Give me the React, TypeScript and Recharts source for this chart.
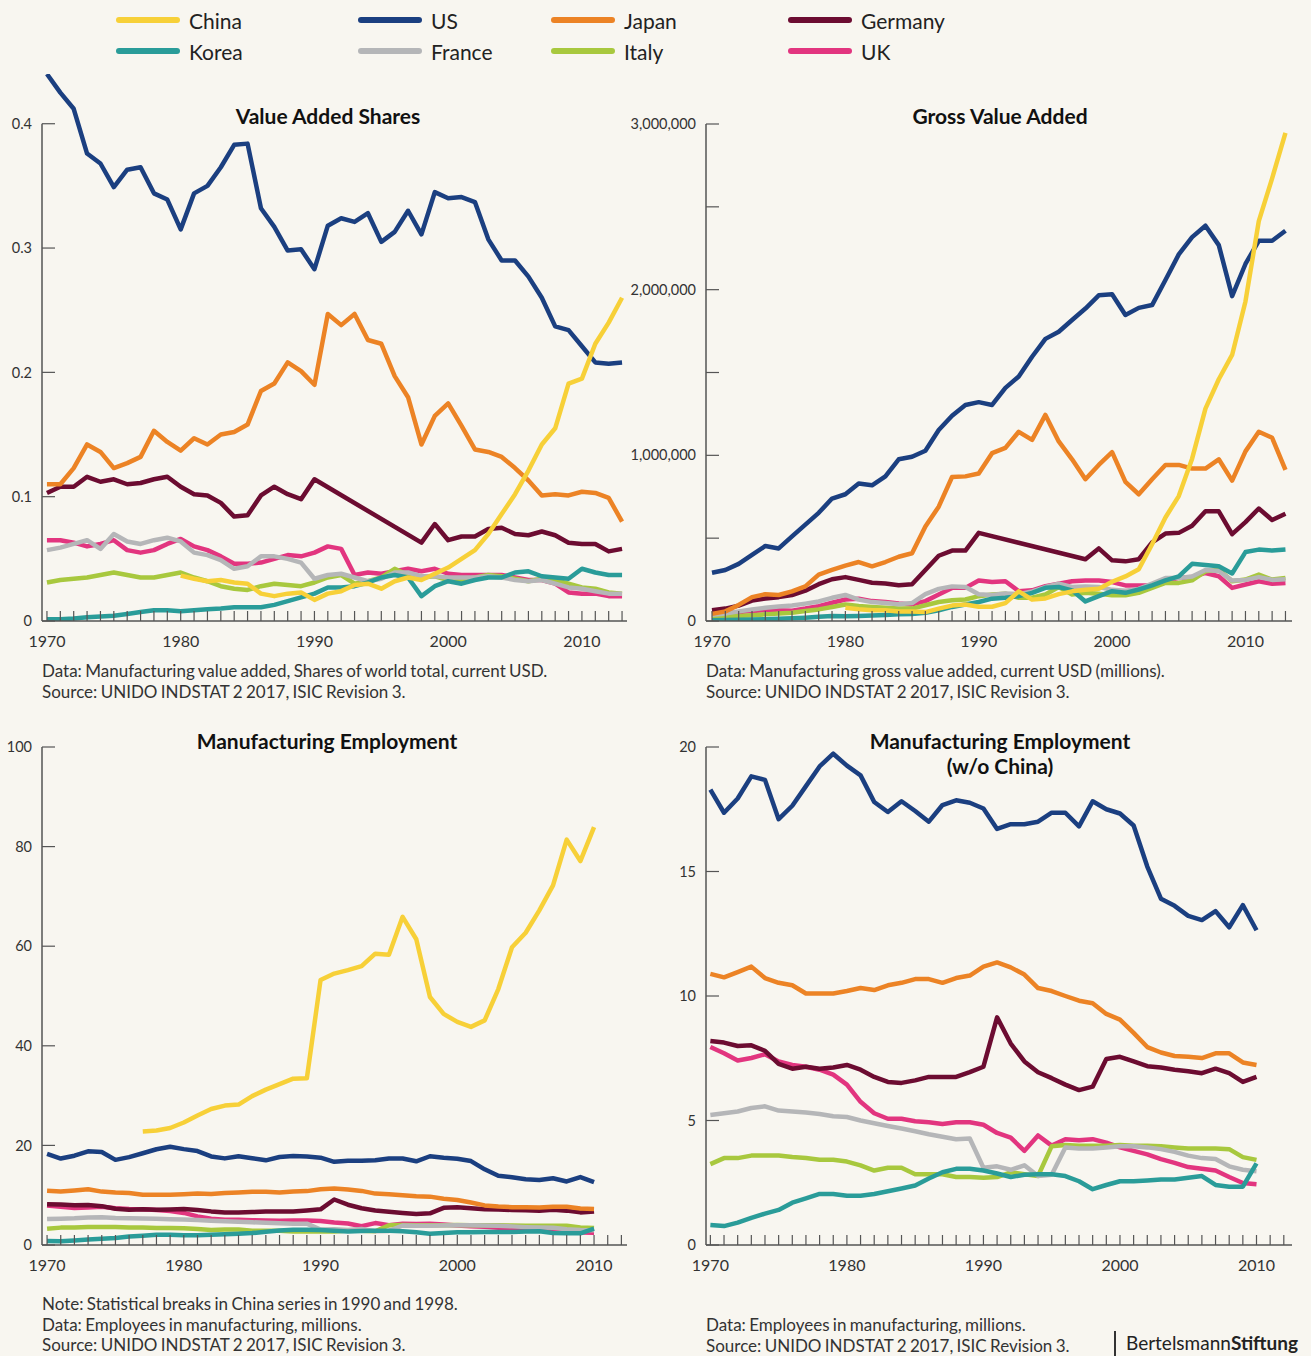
import React from 'react';
import { LineChart, Line, XAxis, YAxis, ReferenceLine } from 'recharts';

// Manufacturing in eight economies, UNIDO INDSTAT 2 2017 (ISIC Rev. 3)

const FONT = 'Lato, "Open Sans", sans-serif';
const BG = '#f8f6f0';
const AXIS = '#555';

const COLORS: Record<string, string> = {
  China: '#f7d038',
  US: '#1b3f80',
  Japan: '#ec8325',
  Germany: '#6c0c31',
  Korea: '#2a9c99',
  France: '#b5b6b8',
  Italy: '#a8c83e',
  UK: '#e2357f',
};

const LEGEND_ROWS = [
  ['China', 'US', 'Japan', 'Germany'],
  ['Korea', 'France', 'Italy', 'UK'],
];
const LEGEND_X = [116, 358, 551, 788];

// drawing order, last one on top
const DRAW_ORDER = ['UK', 'Italy', 'France', 'Korea', 'Germany', 'Japan', 'US', 'China'];

const yearsFrom = (a: number, b: number) => Array.from({ length: b - a + 1 }, (_, i) => a + i);
const YEARS_VA = yearsFrom(1970, 2013);
const YEARS_EMP = yearsFrom(1970, 2010);
const _ = null;

// --- value added, share of world total ---
const CHINA_SHARE = [_, _, _, _, _, _, _, _, _, _,
  0.0365, 0.034, 0.032, 0.033, 0.031, 0.030, 0.022, 0.020, 0.022, 0.023,
  0.017, 0.022, 0.024, 0.029, 0.030, 0.026, 0.032, 0.035, 0.033, 0.038,
  0.043, 0.050, 0.057, 0.070, 0.086, 0.102, 0.121, 0.142, 0.155, 0.191,
  0.195, 0.223, 0.240, 0.260];
const US_SHARE = [0.44, 0.425, 0.412, 0.376, 0.368, 0.349, 0.363, 0.365, 0.344, 0.339,
  0.315, 0.344, 0.350, 0.365, 0.383, 0.384, 0.332, 0.317, 0.298, 0.299,
  0.283, 0.318, 0.324, 0.321, 0.328, 0.305, 0.313, 0.330, 0.311, 0.345,
  0.340, 0.341, 0.337, 0.307, 0.290, 0.290, 0.277, 0.260, 0.237, 0.234,
  0.221, 0.208, 0.207, 0.208];
const JAPAN_SHARE = [0.110, 0.110, 0.123, 0.142, 0.136, 0.123, 0.127, 0.132, 0.153, 0.144,
  0.137, 0.147, 0.142, 0.150, 0.152, 0.158, 0.185, 0.191, 0.208, 0.201,
  0.190, 0.247, 0.238, 0.247, 0.226, 0.223, 0.197, 0.180, 0.142, 0.165,
  0.175, 0.157, 0.138, 0.136, 0.132, 0.123, 0.113, 0.101, 0.102, 0.101,
  0.104, 0.103, 0.099, 0.080];
const GERMANY_SHARE = [0.103, 0.108, 0.108, 0.116, 0.112, 0.114, 0.110, 0.111, 0.114, 0.116,
  0.108, 0.102, 0.101, 0.095, 0.084, 0.085, 0.101, 0.108, 0.102, 0.098,
  0.114, _, _, _, _, _, _, _, 0.063, 0.078,
  0.065, 0.068, 0.068, 0.074, 0.075, 0.070, 0.069, 0.072, 0.069, 0.063,
  0.062, 0.062, 0.056, 0.058];
const KOREA_SHARE = [0.0014, 0.0014, 0.002, 0.003, 0.0037, 0.0043, 0.0057, 0.0072, 0.0086, 0.0086,
  0.0078, 0.0086, 0.0095, 0.010, 0.011, 0.011, 0.011, 0.013, 0.016, 0.019,
  0.022, 0.027, 0.027, 0.028, 0.031, 0.035, 0.037, 0.035, 0.020, 0.028,
  0.032, 0.030, 0.033, 0.035, 0.035, 0.039, 0.040, 0.036, 0.035, 0.034,
  0.042, 0.039, 0.037, 0.037];
const FRANCE_SHARE = [0.057, 0.059, 0.062, 0.065, 0.058, 0.070, 0.064, 0.062, 0.065, 0.067,
  0.064, 0.055, 0.053, 0.049, 0.042, 0.044, 0.052, 0.052, 0.050, 0.047,
  0.034, 0.037, 0.038, 0.035, 0.032, 0.034, 0.039, 0.039, 0.036, 0.036,
  0.035, 0.035, 0.035, 0.036, 0.035, 0.033, 0.032, 0.033, 0.030, 0.027,
  0.026, 0.024, 0.022, 0.022];
const ITALY_SHARE = [0.031, 0.033, 0.034, 0.035, 0.037, 0.039, 0.037, 0.035, 0.035, 0.037,
  0.039, 0.035, 0.032, 0.028, 0.026, 0.025, 0.028, 0.030, 0.029, 0.028,
  0.031, 0.035, 0.037, 0.030, 0.032, 0.035, 0.042, 0.037, 0.035, 0.036,
  0.033, 0.033, 0.035, 0.037, 0.036, 0.034, 0.032, 0.034, 0.033, 0.030,
  0.027, 0.026, 0.023, 0.022];
const UK_SHARE = [0.065, 0.065, 0.063, 0.060, 0.062, 0.065, 0.057, 0.055, 0.057, 0.062,
  0.066, 0.060, 0.057, 0.052, 0.046, 0.046, 0.047, 0.050, 0.053, 0.052,
  0.055, 0.060, 0.058, 0.037, 0.039, 0.038, 0.040, 0.042, 0.040, 0.042,
  0.038, 0.037, 0.037, 0.037, 0.037, 0.035, 0.033, 0.033, 0.030, 0.023,
  0.022, 0.022, 0.020, 0.020];

// --- gross value added, current USD millions ---
const CHINA_GVA = [_, _, _, _, _, _, _, _, _, _,
  80000, 71000, 65000, 65000, 58000, 58000, 54000, 75000, 93000, 100000,
  86000, 86000, 108000, 179000, 129000, 136000, 162000, 179000, 188000, 194000,
  237000, 269000, 312000, 463000, 625000, 754000, 980000, 1282000, 1459000, 1606000,
  1929000, 2414000, 2672000, 2946000];
const US_GVA = [291000, 308000, 345000, 399000, 453000, 438000, 511000, 582000, 653000, 739000,
  765000, 830000, 819000, 873000, 976000, 991000, 1028000, 1153000, 1239000, 1304000,
  1321000, 1304000, 1407000, 1476000, 1595000, 1703000, 1746000, 1817000, 1886000, 1966000,
  1972000, 1847000, 1890000, 1907000, 2058000, 2213000, 2317000, 2386000, 2269000, 1961000,
  2155000, 2295000, 2295000, 2356000];
const JAPAN_GVA = [43000, 58000, 97000, 144000, 162000, 157000, 179000, 209000, 280000, 308000,
  334000, 356000, 330000, 356000, 388000, 409000, 571000, 690000, 869000, 873000,
  890000, 1013000, 1045000, 1142000, 1093000, 1244000, 1084000, 976000, 856000, 942000,
  1019000, 840000, 765000, 856000, 942000, 942000, 920000, 920000, 976000, 847000,
  1024000, 1142000, 1106000, 912000];
const GERMANY_GVA = [65000, 75000, 93000, 123000, 136000, 144000, 157000, 183000, 222000, 252000,
  265000, 248000, 231000, 226000, 216000, 222000, 308000, 394000, 425000, 425000,
  532000, _, _, _, _, _, _, _, 373000, 438000,
  366000, 360000, 373000, 474000, 528000, 532000, 575000, 662000, 662000, 524000,
  597000, 679000, 610000, 647000];
const KOREA_GVA = [5000, 6000, 7000, 9000, 11000, 13000, 16000, 20000, 25000, 30000,
  28000, 30000, 33000, 36000, 40000, 42000, 50000, 65000, 85000, 100000,
  115000, 135000, 140000, 150000, 170000, 200000, 205000, 185000, 118000, 150000,
  180000, 170000, 190000, 215000, 245000, 269000, 345000, 338000, 330000, 287000,
  416000, 431000, 425000, 431000];
const FRANCE_GVA = [38000, 45000, 58000, 70000, 80000, 88000, 93000, 105000, 118000, 140000,
  157000, 129000, 114000, 108000, 101000, 108000, 162000, 194000, 209000, 205000,
  162000, 157000, 166000, 162000, 179000, 205000, 225000, 205000, 209000, 205000,
  188000, 183000, 194000, 226000, 259000, 259000, 269000, 308000, 302000, 244000,
  248000, 265000, 248000, 252000];
const ITALY_GVA = [20000, 25000, 30000, 35000, 40000, 45000, 50000, 60000, 70000, 85000,
  100000, 90000, 85000, 80000, 75000, 75000, 95000, 115000, 125000, 130000,
  150000, 160000, 165000, 140000, 140000, 160000, 205000, 160000, 170000, 165000,
  155000, 155000, 170000, 200000, 230000, 230000, 245000, 300000, 310000, 240000,
  250000, 280000, 250000, 260000];
const UK_GVA = [50000, 52000, 55000, 60000, 65000, 65000, 62000, 75000, 90000, 110000,
  130000, 135000, 120000, 115000, 105000, 100000, 120000, 160000, 200000, 200000,
  245000, 235000, 240000, 180000, 185000, 210000, 225000, 240000, 245000, 245000,
  235000, 215000, 215000, 215000, 240000, 260000, 265000, 290000, 270000, 200000,
  220000, 240000, 225000, 230000];

// --- employees in manufacturing, millions ---
const CHINA_EMP = [_, _, _, _, _, _, _, 22.8, 23.0, 23.5,
  24.6, 26.0, 27.3, 28.0, 28.2, 29.9, 31.2, 32.3, 33.4, 33.5,
  53.2, 54.5, 55.2, 56.0, 58.5, 58.3, 65.9, 61.4, 49.8, 46.4,
  44.8, 43.8, 45.1, 51.4, 59.8, 62.7, 67.2, 72.2, 81.4, 77.1,
  83.9];
const US_EMP = [18.29, 17.36, 17.93, 18.82, 18.68, 17.10, 17.64, 18.43, 19.22, 19.73,
  19.25, 18.86, 17.79, 17.39, 17.82, 17.43, 17.00, 17.67, 17.86, 17.76,
  17.53, 16.71, 16.90, 16.90, 17.00, 17.36, 17.36, 16.81, 17.82, 17.50,
  17.33, 16.85, 15.20, 13.91, 13.62, 13.22, 13.05, 13.41, 12.76, 13.65,
  12.64];
const JAPAN_EMP = [10.89, 10.75, 10.96, 11.18, 10.72, 10.53, 10.43, 10.10, 10.10, 10.10,
  10.20, 10.32, 10.24, 10.43, 10.53, 10.68, 10.68, 10.53, 10.72, 10.82,
  11.18, 11.35, 11.15, 10.86, 10.32, 10.20, 10.00, 9.81, 9.71, 9.28,
  9.05, 8.52, 7.95, 7.73, 7.59, 7.56, 7.51, 7.70, 7.70, 7.33,
  7.23];
const GERMANY_EMP = [8.19, 8.13, 7.99, 8.02, 7.80, 7.27, 7.08, 7.16, 7.08, 7.13,
  7.23, 7.04, 6.75, 6.55, 6.51, 6.61, 6.75, 6.75, 6.75, 6.94,
  7.16, 9.14, 8.09, 7.37, 6.94, 6.70, 6.44, 6.22, 6.36, 7.47,
  7.56, 7.37, 7.18, 7.13, 7.04, 6.98, 6.90, 7.08, 6.90, 6.55,
  6.75];
const KOREA_EMP = [0.80, 0.76, 0.90, 1.09, 1.26, 1.41, 1.70, 1.87, 2.05, 2.05,
  1.98, 1.98, 2.05, 2.16, 2.27, 2.39, 2.67, 2.92, 3.06, 3.06,
  2.99, 2.87, 2.73, 2.82, 2.84, 2.84, 2.77, 2.56, 2.24, 2.41,
  2.56, 2.56, 2.59, 2.63, 2.63, 2.70, 2.77, 2.41, 2.34, 2.34,
  3.28];
const FRANCE_EMP = [5.22, 5.29, 5.36, 5.50, 5.57, 5.40, 5.36, 5.32, 5.26, 5.17,
  5.14, 5.00, 4.89, 4.78, 4.68, 4.57, 4.45, 4.35, 4.25, 4.28,
  3.10, 3.16, 3.02, 3.20, 2.77, 2.82, 3.92, 3.88, 3.88, 3.92,
  3.97, 3.97, 3.92, 3.85, 3.74, 3.59, 3.49, 3.45, 3.16, 3.02,
  2.96];
const ITALY_EMP = [3.25, 3.49, 3.49, 3.59, 3.59, 3.59, 3.53, 3.49, 3.42, 3.42,
  3.35, 3.20, 2.99, 3.10, 3.10, 2.84, 2.84, 2.84, 2.73, 2.73,
  2.70, 2.73, 2.92, 2.84, 2.77, 3.97, 4.02, 3.99, 3.99, 3.99,
  4.02, 3.99, 3.99, 3.97, 3.92, 3.88, 3.88, 3.88, 3.85, 3.53,
  3.42];
const UK_EMP = [7.95, 7.70, 7.41, 7.51, 7.66, 7.37, 7.23, 7.16, 7.04, 6.84,
  6.44, 5.75, 5.29, 5.07, 5.07, 4.97, 4.93, 4.86, 4.93, 4.93,
  4.83, 4.50, 4.31, 3.78, 4.40, 3.99, 4.25, 4.21, 4.25, 4.11,
  3.92, 3.78, 3.64, 3.45, 3.30, 3.13, 3.06, 2.99, 2.73, 2.49,
  2.44];

type Series = Record<string, (number | null)[]>;
type Row = Record<string, number | null>;

function buildRows(years: number[], series: Series): Row[] {
  return years.map((year, i) => {
    const row: Row = { year };
    Object.keys(series).forEach((k) => { row[k] = series[k][i]; });
    return row;
  });
}

const shareRows = buildRows(YEARS_VA, {
  China: CHINA_SHARE, US: US_SHARE, Japan: JAPAN_SHARE, Germany: GERMANY_SHARE,
  Korea: KOREA_SHARE, France: FRANCE_SHARE, Italy: ITALY_SHARE, UK: UK_SHARE,
});
const gvaRows = buildRows(YEARS_VA, {
  China: CHINA_GVA, US: US_GVA, Japan: JAPAN_GVA, Germany: GERMANY_GVA,
  Korea: KOREA_GVA, France: FRANCE_GVA, Italy: ITALY_GVA, UK: UK_GVA,
});
const empRows = buildRows(YEARS_EMP, {
  China: CHINA_EMP, US: US_EMP, Japan: JAPAN_EMP, Germany: GERMANY_EMP,
  Korea: KOREA_EMP, France: FRANCE_EMP, Italy: ITALY_EMP, UK: UK_EMP,
});

const decadeLabel = (v: number) => (v % 10 === 0 ? String(v) : '');

interface PanelProps {
  left: number;
  top: number;
  width: number;
  height: number;
  margin: { top: number; right: number; bottom: number; left: number };
  yWidth: number;
  data: Row[];
  keys: string[];
  xDomain: [number, number];
  xTicks: number[];
  yDomain: [number, number];
  yTicks: number[];
  yFmt: (v: number) => string;
  yAxisTo?: number;
}

function Panel(p: PanelProps) {
  return (
    <div style={{ position: 'absolute', left: p.left, top: p.top }}>
      <LineChart width={p.width} height={p.height} data={p.data} margin={p.margin}>
        <XAxis
          dataKey="year"
          type="number"
          domain={p.xDomain}
          ticks={p.xTicks}
          interval={0}
          allowDataOverflow
          tickFormatter={decadeLabel}
          tickSize={-10}
          tickMargin={25}
          height={30}
          axisLine={{ stroke: AXIS, strokeWidth: 1.5 }}
          tickLine={{ stroke: AXIS, strokeWidth: 1.2 }}
          tick={{ fill: '#333', fontSize: 16, fontFamily: FONT }}
        />
        <YAxis
          type="number"
          domain={p.yDomain}
          ticks={p.yTicks}
          interval={0}
          allowDataOverflow
          width={p.yWidth}
          tickFormatter={p.yFmt}
          tickSize={-13}
          tickMargin={23}
          axisLine={p.yAxisTo === undefined ? { stroke: AXIS, strokeWidth: 1.5 } : false}
          tickLine={{ stroke: AXIS, strokeWidth: 1.2 }}
          tick={{ fill: '#333', fontSize: 14.5, fontFamily: FONT }}
        />
        {p.yAxisTo !== undefined && (
          <ReferenceLine
            segment={[{ x: p.xDomain[0], y: 0 }, { x: p.xDomain[0], y: p.yAxisTo }]}
            stroke={AXIS}
            strokeWidth={1.5}
            ifOverflow="visible"
          />
        )}
        {p.keys.map((k) => (
          <Line
            key={k}
            type="linear"
            dataKey={k}
            stroke={COLORS[k]}
            strokeWidth={4.5}
            strokeLinejoin="round"
            dot={false}
            activeDot={false}
            connectNulls
            isAnimationActive={false}
          />
        ))}
      </LineChart>
    </div>
  );
}

const textBase: React.CSSProperties = { position: 'absolute', fontFamily: FONT, color: '#222' };

function Title({ cx, top, lines }: { cx: number; top: number; lines: string[] }) {
  return (
    <div style={{ ...textBase, left: cx - 200, width: 400, top, textAlign: 'center', fontSize: 21, fontWeight: 700, lineHeight: '25px', color: '#111' }}>
      {lines.map((l) => <div key={l}>{l}</div>)}
    </div>
  );
}

function Note({ left, top, lines }: { left: number; top: number; lines: string[] }) {
  return (
    <div style={{ ...textBase, left, top, fontSize: 17, lineHeight: '20.5px', color: '#333', whiteSpace: 'nowrap', wordSpacing: -1 }}>
      {lines.map((l) => <div key={l}>{l}</div>)}
    </div>
  );
}

const SOURCE = 'Source: UNIDO INDSTAT 2 2017, ISIC Revision 3.';

export default function App() {
  const vaTicks = yearsFrom(1970, 2013);
  const empTicks = yearsFrom(1970, 2012);
  return (
    <div style={{ position: 'absolute', left: 0, top: 0, width: 1311, height: 1356, background: BG, overflow: 'hidden', fontFamily: FONT }}>
      {LEGEND_ROWS.map((row, r) =>
        row.map((name, c) => (
          <div key={name} style={{ position: 'absolute', left: LEGEND_X[c], top: 8 + r * 31, height: 24, display: 'flex', alignItems: 'center' }}>
            <div style={{ width: 64, height: 6, borderRadius: 3, background: COLORS[name] }} />
            <span style={{ marginLeft: 9, fontSize: 21, color: '#222' }}>{name}</span>
          </div>
        )),
      )}

      <Panel
        left={0} top={60} width={640} height={600}
        margin={{ top: 14, right: 13, bottom: 9, left: 0 }}
        yWidth={42}
        data={shareRows} keys={DRAW_ORDER}
        xDomain={[1969.63, 2013.37]} xTicks={vaTicks}
        yDomain={[0, 0.44]} yTicks={[0, 0.1, 0.2, 0.3, 0.4]}
        yFmt={(v) => (v === 0 ? '0' : v.toFixed(1))}
        yAxisTo={0.4}
      />
      <Panel
        left={620} top={60} width={691} height={600}
        margin={{ top: 64, right: 19, bottom: 9, left: 0 }}
        yWidth={86}
        data={gvaRows} keys={DRAW_ORDER}
        xDomain={[1969.55, 2013.49]} xTicks={vaTicks}
        yDomain={[0, 3000000]} yTicks={[0, 500000, 1000000, 1500000, 2000000, 2500000, 3000000]}
        yFmt={(v) => (v % 1000000 === 0 ? v.toLocaleString('en-US') : '')}
      />
      <Panel
        left={0} top={700} width={640} height={600}
        margin={{ top: 47, right: 13, bottom: 25, left: 0 }}
        yWidth={42}
        data={empRows} keys={DRAW_ORDER}
        xDomain={[1969.63, 2012.41]} xTicks={empTicks}
        yDomain={[0, 100]} yTicks={[0, 20, 40, 60, 80, 100]}
        yFmt={(v) => String(v)}
      />
      <Panel
        left={620} top={700} width={691} height={600}
        margin={{ top: 47, right: 19, bottom: 25, left: 0 }}
        yWidth={86}
        data={empRows} keys={DRAW_ORDER.filter((k) => k !== 'China')}
        xDomain={[1969.68, 2012.6]} xTicks={empTicks}
        yDomain={[0, 20]} yTicks={[0, 5, 10, 15, 20]}
        yFmt={(v) => String(v)}
      />

      <Title cx={328} top={103} lines={['Value Added Shares']} />
      <Title cx={1000} top={103} lines={['Gross Value Added']} />
      <Title cx={327} top={728} lines={['Manufacturing Employment']} />
      <Title cx={1000} top={728} lines={['Manufacturing Employment', '(w/o China)']} />

      <Note left={42} top={661} lines={['Data: Manufacturing value added, Shares of world total, current USD.', SOURCE]} />
      <Note left={706} top={661} lines={['Data: Manufacturing gross value added, current USD (millions).', SOURCE]} />
      <Note left={42} top={1294} lines={['Note: Statistical breaks in China series in 1990 and 1998.', 'Data: Employees in manufacturing, millions.', SOURCE]} />
      <Note left={706} top={1315} lines={['Data: Employees in manufacturing, millions.', SOURCE]} />

      <div style={{ position: 'absolute', left: 1114, top: 1331, width: 1.5, height: 25, background: '#333' }} />
      <div style={{ ...textBase, left: 1126, top: 1331, fontSize: 19, lineHeight: '24px', color: '#222', whiteSpace: 'nowrap' }}>
        Bertelsmann<span style={{ fontWeight: 700 }}>Stiftung</span>
      </div>
    </div>
  );
}
